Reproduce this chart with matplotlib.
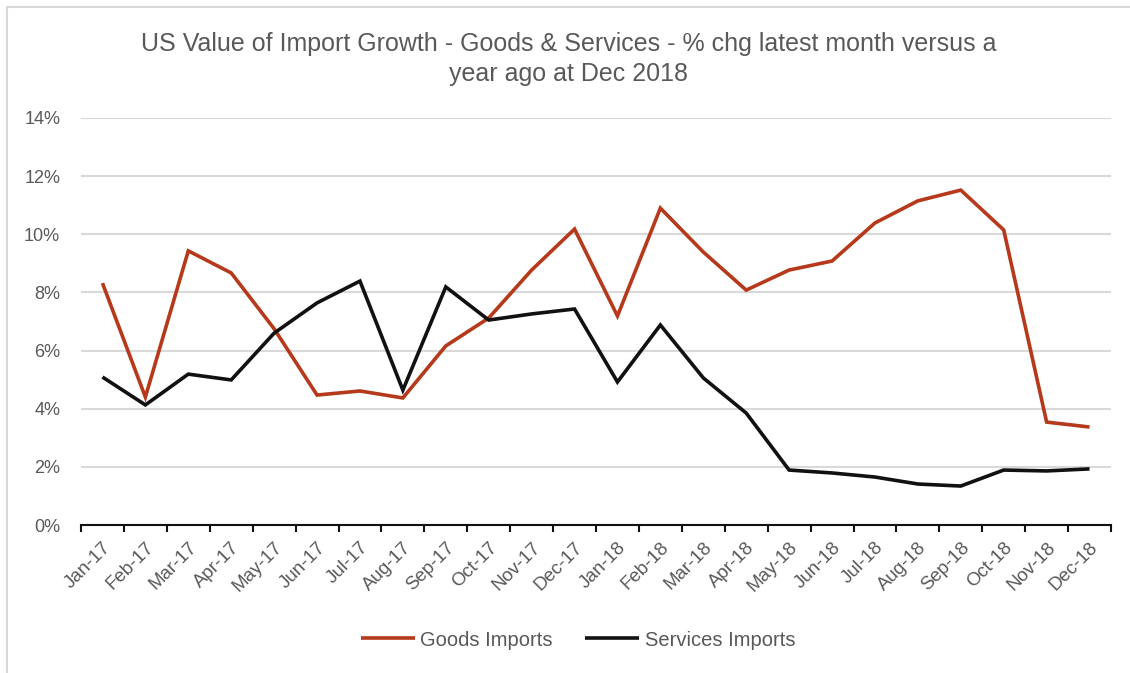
import matplotlib
matplotlib.use("Agg")
import matplotlib.pyplot as plt
from matplotlib.ticker import FixedLocator, PercentFormatter
from matplotlib.lines import Line2D

plt.rcParams['font.family'] = ['Liberation Sans', 'DejaVu Sans']

months = ["Jan-17", "Feb-17", "Mar-17", "Apr-17", "May-17", "Jun-17",
          "Jul-17", "Aug-17", "Sep-17", "Oct-17", "Nov-17", "Dec-17",
          "Jan-18", "Feb-18", "Mar-18", "Apr-18", "May-18", "Jun-18",
          "Jul-18", "Aug-18", "Sep-18", "Oct-18", "Nov-18", "Dec-18"]

goods_imports = [8.32, 4.40, 9.43, 8.67, 6.75, 4.47, 4.61, 4.37, 6.16, 7.12,
                 8.77, 10.18, 7.19, 10.90, 9.39, 8.08, 8.77, 9.08, 10.39,
                 11.15, 11.52, 10.15, 3.54, 3.37]

services_imports = [5.09, 4.13, 5.19, 4.99, 6.60, 7.64, 8.39, 4.64, 8.19, 7.05,
                    7.26, 7.43, 4.92, 6.88, 5.06, 3.85, 1.89, 1.79, 1.65,
                    1.41, 1.34, 1.89, 1.86, 1.93]

title = ("US Value of Import Growth - Goods & Services - % chg latest month versus a\n"
         "year ago at Dec 2018")

text_grey = "#595959"
goods_color = "#B5391A"
services_color = "#111111"

W, H = 1130, 673
fig = plt.figure(figsize=(W / 100, H / 100), dpi=100)
fig.patch.set_facecolor("white")

# chart border (top and left edges visible)
fig.add_artist(Line2D([7 / W, 7 / W], [0, 1 - 7 / H], transform=fig.transFigure,
                      color="#D9D9D9", lw=1.5))
fig.add_artist(Line2D([7 / W, 1], [1 - 7 / H, 1 - 7 / H], transform=fig.transFigure,
                      color="#D9D9D9", lw=1.5))

ax = fig.add_axes([81 / W, 1 - 525 / H, (1111 - 81) / W, (525 - 118) / H])

x = list(range(len(months)))
ax.plot(x, goods_imports, color=goods_color, lw=2.6, label="Goods Imports",
        solid_joinstyle="miter", solid_capstyle="butt", zorder=3)
ax.plot(x, services_imports, color=services_color, lw=2.6, label="Services Imports",
        solid_joinstyle="miter", solid_capstyle="butt", zorder=3)

ax.set_xlim(-0.5, len(months) - 0.5)
ax.set_ylim(0, 14)
ax.yaxis.set_major_locator(FixedLocator(range(0, 15, 2)))
ax.yaxis.set_major_formatter(PercentFormatter(decimals=0))
ax.grid(axis="y", color="#D9D9D9", lw=1.5)
ax.set_axisbelow(True)

for s in ["top", "right", "left"]:
    ax.spines[s].set_visible(False)
ax.spines["bottom"].set_color("#111111")
ax.spines["bottom"].set_linewidth(1.5)
ax.spines["bottom"].set_zorder(4)

ax.set_xticks(x)
ax.set_xticklabels(months, rotation=45, ha="right", rotation_mode="anchor")
ax.set_xticks([i - 0.5 for i in range(len(months) + 1)], minor=True)
ax.tick_params(axis="x", which="major", length=0, pad=10, labelsize=13.5, labelcolor=text_grey)
ax.tick_params(axis="x", which="minor", length=5, width=1.5, color="#111111", direction="out")
ax.tick_params(axis="y", length=0, pad=15, labelsize=13, labelcolor=text_grey)

fig.text(0.503, 1 - 32 / H, title, ha="center", va="top", fontsize=18,
         color=text_grey, linespacing=1.3)

fig.legend(loc="center", bbox_to_anchor=(578 / W, 1 - 640 / H), ncol=2, frameon=False,
           fontsize=14.5, labelcolor=text_grey, handlelength=2.7, handletextpad=0.25,
           columnspacing=1.6)

fig.savefig("out.png", dpi=100)
